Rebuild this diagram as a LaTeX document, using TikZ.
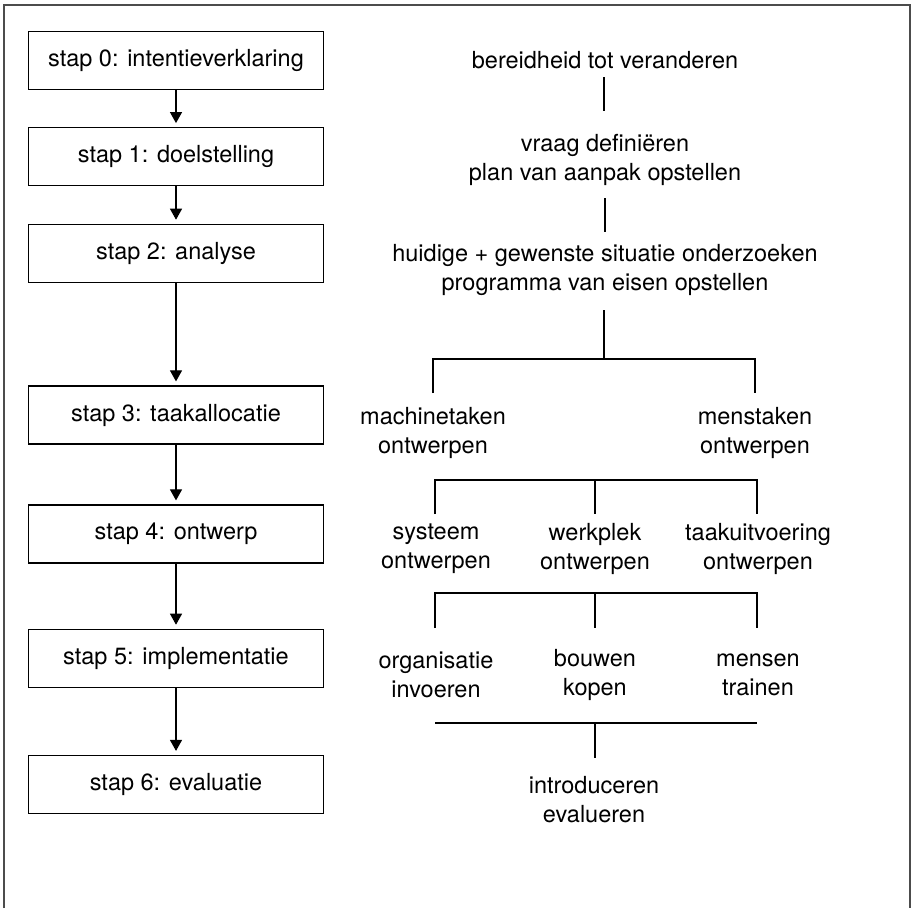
\documentclass[tikz,border=0pt]{standalone}
\usepackage{fontspec}
\setmainfont{TeX Gyre Heros}
\usetikzlibrary{arrows.meta}
\begin{document}
\begin{tikzpicture}[x=1pt,y=-1pt,
  every node/.style={font=\fontsize{23.5}{29}\selectfont, inner sep=0pt},
  stepbox/.style={draw, line width=1.2pt, minimum width=295pt, minimum height=58pt},
  flow/.style={line width=1.1pt, -{Triangle[width=12pt,length=11pt]}, shorten >=4pt},
  label/.style={align=center},
  tree/.style={line width=1.1pt}]
  \useasboundingbox (0,0) rectangle (912,908);
  % open frame: left, top and right sides
  \draw[line width=1.8pt, black!70] (4,908) -- (4,5) -- (910,5) -- (910,908);

  % left column: the steps
  \node[stepbox] (s0) at (176,60.5)  {stap 0: intentieverklaring};
  \node[stepbox] (s1) at (176,156.7) {stap 1: doelstelling};
  \node[stepbox] (s2) at (176,253.3) {stap 2: analyse};
  \node[stepbox] (s3) at (176,415)   {stap 3: taakallocatie};
  \node[stepbox] (s4) at (176,534)   {stap 4: ontwerp};
  \node[stepbox] (s5) at (176,658.3) {stap 5: implementatie};
  \node[stepbox] (s6) at (176,784.5) {stap 6: evaluatie};
  \foreach \a/\b in {s0/s1,s1/s2,s2/s3,s3/s4,s4/s5,s5/s6}
    \draw[flow] (\a.south) -- (\b.north);

  % right column: the activities
  \node (r0) at (605,60) {bereidheid tot veranderen};
  \node[label] (r1) at (605,160) {vraag definiëren\\plan van aanpak opstellen};
  \node[label] (r2) at (605,270) {huidige + gewenste situatie onderzoeken\\programma van eisen opstellen};
  \node[label] (m1) at (433,433) {machinetaken\\ontwerpen};
  \node[label] (m2) at (755,433) {menstaken\\ontwerpen};
  \node[label] (o1) at (436,549) {systeem\\ontwerpen};
  \node[label] (o2) at (595,549) {werkplek\\ontwerpen};
  \node[label] (o3) at (758,549) {taakuitvoering\\ontwerpen};
  \node[label] (i1) at (436,675) {organisatie\\invoeren};
  \node[label] (i2) at (595,675) {bouwen\\kopen};
  \node[label] (i3) at (758,675) {mensen\\trainen};
  \node[label] (e1) at (594,800) {introduceren\\evalueren};

  % junction points of the tree
  \coordinate (j1) at (604,359);
  \coordinate (j2) at (595,480);
  \coordinate (j3) at (595,593);
  \coordinate (j4) at (595,723);

  \draw[tree] (604,77) -- (604,111);
  \draw[tree] (605,198) -- (605,232);
  \draw[tree] (604,310) -- (j1);
  \draw[tree] (433,393) -- (433,359) -- (755,359) -- (755,393);
  \draw[tree] (435,514) -- (435,480) -- (757,480) -- (757,514);
  \draw[tree] (j2) -- (595,514);
  \draw[tree] (435,628) -- (435,593) -- (757,593) -- (757,628);
  \draw[tree] (j3) -- (595,628);
  \draw[tree] (435,723) -- (757,723);
  \draw[tree] (j4) -- (595,758);
\end{tikzpicture}
\end{document}
